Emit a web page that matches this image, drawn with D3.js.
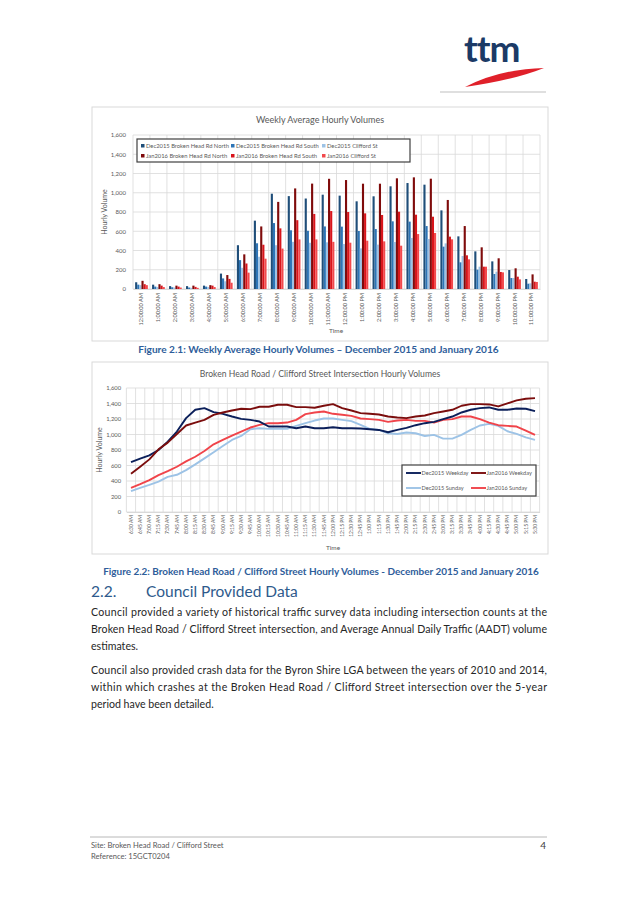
<!DOCTYPE html>
<html>
<head>
<meta charset="utf-8">
<script src="https://cdn.jsdelivr.net/npm/d3@7"></script>
<style>
  body { margin: 0; background: #fff; }
  text { font-family: Lato, "Open Sans", sans-serif; }
</style>
</head>
<body>
<svg id="page" width="638" height="900"></svg>
<script>
// ---- data: figure 2.1, weekly average hourly volumes ----
var hours = ["12:00:00 AM", "1:00:00 AM", "2:00:00 AM", "3:00:00 AM", "4:00:00 AM", "5:00:00 AM",
    "6:00:00 AM", "7:00:00 AM", "8:00:00 AM", "9:00:00 AM", "10:00:00 AM", "11:00:00 AM",
    "12:00:00 PM", "1:00:00 PM", "2:00:00 PM", "3:00:00 PM", "4:00:00 PM", "5:00:00 PM",
    "6:00:00 PM", "7:00:00 PM", "8:00:00 PM", "9:00:00 PM", "10:00:00 PM", "11:00:00 PM"];
var barSeries = ["Dec2015 Broken Head Rd North", "Dec2015 Broken Head Rd South", "Dec2015 Clifford St",
    "Jan2016 Broken Head Rd North", "Jan2016 Broken Head Rd South", "Jan2016 Clifford St"];
var decNorth = [70, 45, 30, 30, 35, 160, 455, 710, 990, 965, 940, 980, 970, 911, 963, 1067, 1101, 1084, 817, 547, 391, 287, 197, 104];
var decSouth = [45, 25, 18, 15, 25, 110, 300, 475, 685, 610, 605, 650, 648, 603, 623, 703, 700, 654, 440, 277, 201, 156, 114, 55];
var decClifford = [40, 20, 15, 12, 20, 80, 220, 335, 455, 490, 480, 485, 467, 422, 461, 488, 530, 519, 474, 343, 232, 180, 114, 59];
var janNorth = [85, 50, 35, 35, 40, 145, 360, 650, 905, 1045, 1095, 1145, 1132, 1094, 1094, 1150, 1160, 1146, 925, 654, 433, 319, 215, 152];
var janSouth = [50, 35, 25, 22, 35, 105, 265, 460, 630, 715, 780, 810, 800, 786, 769, 803, 772, 751, 544, 350, 232, 177, 128, 76];
var janClifford = [40, 20, 15, 12, 20, 65, 170, 315, 420, 515, 515, 490, 481, 502, 495, 450, 571, 582, 516, 308, 232, 173, 100, 73];

// ---- data: figure 2.2, intersection 15 minute volumes ----
var times = ["6:30 AM", "6:45 AM", "7:00 AM", "7:15 AM", "7:30 AM", "7:45 AM", "8:00 AM", "8:15 AM",
    "8:30 AM", "8:45 AM", "9:00 AM", "9:15 AM", "9:30 AM", "9:45 AM", "10:00 AM", "10:15 AM",
    "10:30 AM", "10:45 AM", "11:00 AM", "11:15 AM", "11:30 AM", "11:45 AM", "12:00 PM", "12:15 PM",
    "12:30 PM", "12:45 PM", "1:00 PM", "1:15 PM", "1:30 PM", "1:45 PM", "2:00 PM", "2:15 PM",
    "2:30 PM", "2:45 PM", "3:00 PM", "3:15 PM", "3:30 PM", "3:45 PM", "4:00 PM", "4:15 PM",
    "4:30 PM", "4:45 PM", "5:00 PM", "5:15 PM", "5:30 PM"];
var lineSeries = ["Dec2015 Weekday", "Jan2016 Weekday", "Dec2015 Sunday", "Jan2016 Sunday"];
var decWeekday = [644, 688, 731, 800, 908, 1038, 1211, 1319, 1340, 1289, 1267, 1232, 1202, 1189, 1167, 1103, 1103, 1103, 1081, 1103, 1081, 1081,
    1094, 1081, 1081, 1077, 1068, 1059, 1029, 1059, 1085, 1120, 1146, 1163, 1198, 1232, 1284, 1319, 1340, 1349, 1319, 1319, 1336, 1332, 1301];
var janWeekday = [493, 584, 679, 809, 895, 1007, 1116, 1154, 1189, 1254, 1284, 1310, 1332, 1327, 1358, 1358, 1384, 1384, 1353, 1353, 1345, 1371,
    1392, 1340, 1310, 1276, 1267, 1258, 1232, 1219, 1211, 1232, 1245, 1276, 1297, 1319, 1371, 1392, 1392, 1388, 1362, 1401, 1440, 1462, 1470];
var decSunday = [268, 311, 350, 393, 454, 480, 540, 614, 692, 770, 852, 930, 981, 1068, 1081, 1072, 1072, 1072, 1111, 1146, 1180, 1206,
    1206, 1189, 1172, 1124, 1072, 1059, 1016, 1007, 1025, 1016, 981, 995, 947, 947, 995, 1059, 1116, 1137, 1111, 1042, 1007, 964, 930];
var janSunday = [311, 359, 411, 476, 528, 584, 653, 713, 787, 873, 930, 986, 1038, 1090, 1124, 1146, 1146, 1154, 1189, 1263, 1284, 1297,
    1267, 1254, 1241, 1206, 1198, 1189, 1163, 1180, 1189, 1176, 1176, 1154, 1189, 1198, 1232, 1232, 1198, 1154, 1120, 1111, 1103, 1051, 995];

var volumeTicks = [0, 200, 400, 600, 800, 1000, 1200, 1400, 1600];

var barColours = ["#1f4e79", "#2e75b6", "#9dc3e6", "#7f0b0b", "#d9151b", "#f2494c"];
var lineColours = ["#0b1f5a", "#7b0d0d", "#9dc3e6", "#f0444a"];

var page = d3.select("#page");
page.append("rect").attr("width", 638).attr("height", 900).attr("fill", "#fff");

// ---- header logo ----
page.append("text")
    .attr("x", 464).attr("y", 62)
    .style("font", "bold 37px Lato, sans-serif")
    .style("letter-spacing", "-1px")
    .style("fill", "#1b3a66")
    .text("ttm");
page.append("path")
    .attr("d", "M465,87 Q500,69 544,68 Q514,80 465,87 Z")
    .attr("fill", "#e0202a");
page.append("line")
    .attr("x1", 440).attr("x2", 546).attr("y1", 92).attr("y2", 92)
    .attr("stroke", "#bfbfbf").attr("stroke-width", 1);

// helper for the little grey chart frames
function chartFrame(y, h) {
    page.append("rect")
        .attr("x", 92).attr("y", y).attr("width", 456).attr("height", h)
        .attr("fill", "#fff").attr("stroke", "#d9d9d9").attr("stroke-width", 1);
}

function chartText(x, y, size, txt, anchor) {
    return page.append("text")
        .attr("x", x).attr("y", y)
        .style("font-size", size + "px")
        .style("fill", "#595959")
        .style("text-anchor", anchor || "middle")
        .text(txt);
}

// =========== Figure 2.1 ===========
chartFrame(107, 234);
chartText(320, 123, 9, "Weekly Average Hourly Volumes");

var y1 = d3.scaleLinear().domain([0, 1600]).range([289, 135]);
var x1 = d3.scaleBand().domain(hours).range([133, 540]);
var xs1 = d3.scaleBand().domain(barSeries).range([0, x1.bandwidth()]).paddingOuter(1);

var g1 = page.append("g");
// gridlines
g1.selectAll(".hgrid").data(volumeTicks).enter().append("line")
    .attr("x1", 133).attr("x2", 540)
    .attr("y1", d => y1(d)).attr("y2", d => y1(d))
    .attr("stroke", "#d9d9d9").attr("stroke-width", 0.8);
g1.selectAll(".vgrid").data(hours.concat(["end"])).enter().append("line")
    .attr("x1", (d, i) => 133 + i * x1.step()).attr("x2", (d, i) => 133 + i * x1.step())
    .attr("y1", y1(1600)).attr("y2", y1(0))
    .attr("stroke", "#d9d9d9").attr("stroke-width", 0.8);

var barData = [decNorth, decSouth, decClifford, janNorth, janSouth, janClifford];
barData.forEach(function(vals, s) {
    g1.selectAll(".bar" + s).data(vals).enter().append("rect")
        .attr("x", (d, i) => x1(hours[i]) + xs1(barSeries[s]))
        .attr("width", xs1.bandwidth())
        .attr("y", d => y1(d))
        .attr("height", d => y1(0) - y1(d))
        .attr("fill", barColours[s]);
});

// y axis labels
var yAxis1 = page.append("g")
    .attr("transform", "translate(130,0)")
    .call(d3.axisLeft(y1).tickValues(volumeTicks).tickSize(0).tickPadding(4).tickFormat(d3.format(",")));
yAxis1.select(".domain").remove();
yAxis1.selectAll("text").style("font-size", "6px").style("fill", "#595959")
    .style("font-family", "Lato, sans-serif");

// x axis labels, rotated
var xAxis1 = page.append("g")
    .attr("transform", "translate(0,289)")
    .call(d3.axisBottom(x1).tickSize(0).tickPadding(0));
xAxis1.select(".domain").attr("stroke", "#d9d9d9");
xAxis1.selectAll("text")
    .attr("transform", "rotate(-90)")
    .attr("x", -4).attr("y", 0).attr("dy", "0.35em")
    .style("text-anchor", "end")
    .style("font-size", "5.6px").style("fill", "#595959")
    .style("font-family", "Lato, sans-serif");

chartText(336, 333, 6.5, "Time");
chartText(0, 0, 7, "Hourly Volume").attr("transform", "translate(107,212) rotate(-90)");

// legend
var leg1 = page.append("g");
leg1.append("rect").attr("x", 137).attr("y", 139).attr("width", 273).attr("height", 23)
    .attr("fill", "#fff").attr("stroke", "#404040").attr("stroke-width", 1.2);
var legX1 = [141, 231, 322];
barSeries.forEach(function(name, i) {
    var lx = legX1[i % 3], ly = i < 3 ? 146 : 156;
    leg1.append("rect").attr("x", lx).attr("y", ly - 2).attr("width", 3.5).attr("height", 3.5)
        .attr("fill", barColours[i]);
    leg1.append("text").attr("x", lx + 5).attr("y", ly + 1.8)
        .style("font-size", "5.8px").style("fill", "#595959").text(name);
});

// caption
page.append("text")
    .attr("x", 318.5).attr("y", 352.5)
    .style("text-anchor", "middle")
    .style("font", "bold 10.1px Lato, sans-serif")
    .style("fill", "#2e5d9a")
    .text("Figure 2.1: Weekly Average Hourly Volumes \u2013 December 2015 and January 2016");

// =========== Figure 2.2 ===========
chartFrame(362, 192);
chartText(320, 377, 8.6, "Broken Head Road / Clifford Street Intersection Hourly Volumes");

var y2 = d3.scaleLinear().domain([0, 1600]).range([512, 388]);
var x2 = d3.scaleBand().domain(times).range([126.4, 539.6]);

var g2 = page.append("g");
g2.selectAll(".hgrid").data(volumeTicks).enter().append("line")
    .attr("x1", 126.4).attr("x2", 539.6)
    .attr("y1", d => y2(d)).attr("y2", d => y2(d))
    .attr("stroke", "#d9d9d9").attr("stroke-width", 0.8);
g2.selectAll(".vgrid").data(times.concat(["end"])).enter().append("line")
    .attr("x1", (d, i) => 126.4 + i * x2.step()).attr("x2", (d, i) => 126.4 + i * x2.step())
    .attr("y1", y2(1600)).attr("y2", y2(0))
    .attr("stroke", "#d9d9d9").attr("stroke-width", 0.8);

var line2 = d3.line()
    .x((d, i) => x2(times[i]) + x2.bandwidth() / 2)
    .y(d => y2(d));
var lineData = [decWeekday, janWeekday, decSunday, janSunday];
// draw the Sunday series first so the weekday lines sit on top
[2, 3, 0, 1].forEach(function(s) {
    g2.append("path")
        .attr("d", line2(lineData[s]))
        .attr("fill", "none")
        .attr("stroke", lineColours[s])
        .attr("stroke-width", 1.9)
        .attr("stroke-linejoin", "round");
});

var yAxis2 = page.append("g")
    .attr("transform", "translate(124,0)")
    .call(d3.axisLeft(y2).tickValues(volumeTicks).tickSize(0).tickPadding(3).tickFormat(d3.format(",")));
yAxis2.select(".domain").remove();
yAxis2.selectAll("text").style("font-size", "5.8px").style("fill", "#595959")
    .style("font-family", "Lato, sans-serif");

var xAxis2 = page.append("g")
    .attr("transform", "translate(0,512)")
    .call(d3.axisBottom(x2).tickSize(0).tickPadding(0));
xAxis2.select(".domain").attr("stroke", "#d9d9d9");
xAxis2.selectAll("text")
    .attr("transform", "rotate(-90)")
    .attr("x", -3).attr("y", 0).attr("dy", "0.35em")
    .style("text-anchor", "end")
    .style("font-size", "5px").style("fill", "#595959")
    .style("font-family", "Lato, sans-serif");

chartText(333, 550, 6.5, "Time");
chartText(0, 0, 7, "Hourly Volume").attr("transform", "translate(102,450) rotate(-90)");

var leg2 = page.append("g");
leg2.append("rect").attr("x", 402).attr("y", 465).attr("width", 134).attr("height", 31)
    .attr("fill", "#fff").attr("stroke", "#404040").attr("stroke-width", 1.2);
var legX2 = [406, 471];
lineSeries.forEach(function(name, i) {
    var lx = legX2[i % 2], ly = i < 2 ? 473 : 488;
    leg2.append("line").attr("x1", lx).attr("x2", lx + 15).attr("y1", ly).attr("y2", ly)
        .attr("stroke", lineColours[i]).attr("stroke-width", 1.9);
    leg2.append("text").attr("x", lx + 15.5).attr("y", ly + 2)
        .style("font-size", "5.6px").style("fill", "#595959").text(name);
});

page.append("text")
    .attr("x", 321).attr("y", 575)
    .style("text-anchor", "middle")
    .style("font", "bold 9.95px Lato, sans-serif")
    .style("fill", "#2e5d9a")
    .text("Figure 2.2: Broken Head Road / Clifford Street Hourly Volumes - December 2015 and January 2016");

// =========== body text ===========
page.append("text").attr("x", 91).attr("y", 597)
    .style("font-size", "15.5px").style("fill", "#2e5a8c").text("2.2.");
page.append("text").attr("x", 146).attr("y", 597)
    .style("font-size", "15.5px").style("fill", "#2e5a8c").text("Council Provided Data");

var paraLines = [
    ["Council provided a variety of historical traffic survey data including intersection counts at the", 615.5, true],
    ["Broken Head Road / Clifford Street intersection, and Average Annual Daily Traffic (AADT) volume", 632.5, true],
    ["estimates.", 649.5, false],
    ["Council also provided crash data for the Byron Shire LGA between the years of 2010 and 2014,", 673.5, true],
    ["within which crashes at the Broken Head Road / Clifford Street intersection over the 5-year", 690.5, true],
    ["period have been detailed.", 707.5, false]
];
paraLines.forEach(function(l) {
    var t = page.append("text").attr("x", 91).attr("y", l[1])
        .style("font-size", "10.6px").style("fill", "#262626").text(l[0]);
    if (l[2]) t.attr("textLength", 456).attr("lengthAdjust", "spacing");
});

// =========== footer ===========
page.append("line").attr("x1", 90).attr("x2", 547).attr("y1", 837).attr("y2", 837)
    .attr("stroke", "#a6a6a6").attr("stroke-width", 0.8);
page.append("text").attr("x", 91).attr("y", 848)
    .style("font-size", "7.6px").style("fill", "#595959").text("Site: Broken Head Road / Clifford Street");
page.append("text").attr("x", 91).attr("y", 859)
    .style("font-size", "7.6px").style("fill", "#595959").text("Reference: 15GCT0204");
page.append("text").attr("x", 546).attr("y", 849).style("text-anchor", "end")
    .style("font-size", "10px").style("fill", "#404040").text("4");
</script>
</body>
</html>
